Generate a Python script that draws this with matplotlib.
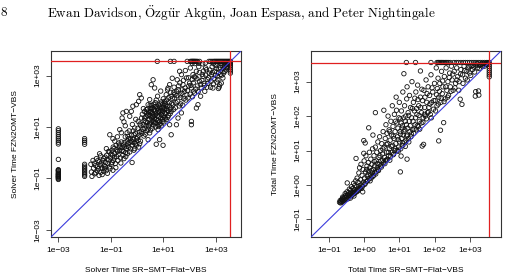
import numpy as np
import matplotlib
matplotlib.use("Agg")
import matplotlib.pyplot as plt

plt.rcParams["font.family"] = ["Liberation Sans", "DejaVu Sans"]
plt.rcParams["mathtext.fontset"] = "cm"

# all times are log10(seconds)
TIMEOUT = 3.556  # log10(3600)

# --- left panel: solver time ---
solver_col_001 = [0.93, 0.86, 0.78, 0.70, 0.62, 0.55, 0.48, 0.41, 0.34, -0.26,
                  -0.66, -0.68, -0.70, -0.74, -0.78, -0.82, -0.84, -0.86, -0.89,
                  -0.92, -0.93, -0.95, -0.98, -1.01, -1.04]
solver_col_01 = [0.55, 0.48, 0.41, 0.33, -0.45, -0.52, -0.58, -0.64, -0.70,
                 -0.76, -0.82, -0.87, -0.92]
solver_cloud = [
    (-1.76, -0.45), (-1.74, -0.75), (-1.72, -0.92), (-1.68, -0.30), (-1.66, -0.60),
    (-1.62, -0.82), (-1.58, -0.50), (-1.55, -0.23), (-1.52, -0.70), (-1.49, -0.30),
    (-1.47, -0.62), (-1.45, -0.88), (-1.43, -0.04), (-1.40, -0.48), (-1.38, -0.76),
    (-1.36, -0.40), (-1.34, -0.60), (-1.30, -0.30), (-1.28, -0.72), (-1.26, -0.50),
    (-1.24, -0.62), (-1.22, -0.17), (-1.20, -0.38), (-1.17, 0.16), (-1.16, -0.10),
    (-1.13, -0.80), (-1.11, -0.42), (-1.08, -0.28), (-1.06, -0.55), (-1.04, 0.03),
    (-1.01, -0.20), (-0.98, -0.45), (-0.96, 0.10), (-0.94, -0.10), (-0.92, -0.68),
    (-0.90, -0.30), (-0.88, 0.16), (-0.85, -0.04), (-0.83, -0.42), (-0.80, 0.29),
    (-0.78, -0.15), (-0.75, 0.05), (-0.73, -0.30), (-0.70, 0.38), (-0.69, 0.22),
    (-0.66, 0.09), (-0.63, -0.20), (-0.60, 0.42), (-0.57, 0.09), (-0.54, -0.10),
    (-0.52, 0.30), (-0.50, -0.23), (-0.47, 0.22), (-0.44, 0.00), (-0.41, 0.16),
    (-0.38, 0.45), (-0.37, -0.04), (-0.35, 0.35), (-0.32, 0.22), (-0.28, 0.03),
    (-0.19, -0.38), (-0.19, 0.30), (-0.16, 0.42), (-0.12, 0.10), (-0.09, 0.16),
    (-0.05, 0.35), (-0.03, 0.29), (0.04, 0.48), (0.06, 0.22), (0.10, 0.35),
    (-1.04, 0.70), (-0.92, 0.55), (-0.85, 0.45), (-0.75, 0.62), (-0.66, 0.90),
    (-0.60, 0.78), (-0.57, 1.35), (-0.54, 1.55), (-0.50, 1.20), (-0.45, 1.05),
    (-0.41, 1.61), (-0.35, 0.64), (-0.30, 0.85), (-0.28, 1.42), (-0.22, 1.61),
    (-0.22, 0.45), (-0.18, 1.10), (-0.16, 1.81), (-0.12, 0.70), (-0.09, 0.96),
    (-0.05, 1.30), (-0.03, 1.87), (0.02, 0.60), (0.04, 1.22), (0.06, 2.00),
    (0.10, 2.26), (0.10, 0.80), (0.14, 1.05), (0.16, 2.13), (0.16, 0.83),
    (0.20, 1.50), (0.23, 1.09), (0.26, 0.65), (0.29, 1.35), (0.30, 0.95),
    (0.33, 1.20), (0.35, 1.68), (0.38, 0.85), (0.40, 1.45), (0.42, 1.87),
    (0.42, 0.51), (0.44, 1.05), (0.46, 1.30), (0.48, 2.07), (0.48, 0.77),
    (0.50, 1.60), (0.52, 1.15), (0.54, 2.65), (0.54, 1.61), (0.56, 1.85),
    (0.58, 0.95), (0.60, 1.40), (0.61, 2.84), (0.61, 1.42), (0.63, 1.20),
    (0.65, 1.70), (0.67, 2.52), (0.67, 1.16), (0.69, 1.95), (0.70, 1.00),
    (0.72, 1.50), (0.73, 0.33), (0.74, 1.30), (0.76, 1.80), (0.78, 2.20),
    (0.80, 0.90), (0.80, 1.62), (0.82, 1.40), (0.84, 1.10), (0.86, 1.22),
    (0.86, 0.51), (0.88, 1.90), (0.90, 2.40), (0.92, 1.48), (0.92, 1.05),
    (0.95, 1.75), (0.97, 1.30), (0.99, 0.29), (0.99, 1.74), (1.00, 2.10),
    (1.02, 1.20), (1.05, 2.00), (1.05, 1.55), (1.08, 1.35), (1.10, 1.85),
    (1.11, 2.26), (1.11, 1.29), (1.14, 1.65), (1.16, 2.45), (1.18, 2.52),
    (1.20, 1.45), (1.22, 1.95), (1.24, 2.65), (1.24, 1.09), (1.27, 1.70),
    (1.30, 1.61), (1.30, 0.70), (1.30, 2.20),
    (0.45, 1.50), (0.55, 1.35), (0.62, 1.65), (0.68, 1.45), (0.75, 1.55),
    (0.78, 1.25), (0.85, 1.60), (0.90, 1.35), (0.95, 1.55), (1.00, 1.45),
    (0.58, 1.75), (0.70, 1.80), (0.82, 1.85), (0.98, 1.90), (1.05, 1.70),
    (1.15, 1.80), (0.50, 1.85), (0.40, 1.70), (0.35, 1.40), (0.28, 1.60),
    (-0.45, 0.62), (-0.38, 0.78), (-0.25, 0.55), (-0.15, 0.85),
    (1.34, 2.90), (1.37, 1.87), (1.40, 2.35), (1.43, 2.13), (1.46, 1.75),
    (1.50, 2.39), (1.50, 1.09), (1.53, 2.84), (1.55, 2.00), (1.56, 1.35),
    (1.58, 2.60), (1.62, 3.17), (1.64, 2.25), (1.66, 1.90), (1.69, 3.04),
    (1.69, 1.55), (1.72, 2.45), (1.75, 2.65), (1.78, 2.10), (1.81, 2.39),
    (1.84, 3.20), (1.88, 2.91), (1.90, 2.25), (1.94, 2.13), (1.97, 2.60),
    (2.00, 2.71), (2.03, 3.30), (2.07, 2.52), (2.07, 1.22), (2.07, 1.09),
    (2.10, 2.85), (2.13, 3.04), (2.16, 2.40), (2.19, 2.32), (2.22, 2.95),
    (2.26, 3.17), (2.26, 1.74), (2.30, 2.60), (2.32, 1.87), (2.35, 3.35),
    (2.38, 2.78), (2.42, 2.20), (2.45, 2.52), (2.48, 3.05), (2.51, 2.97),
    (2.55, 2.70), (2.58, 2.39), (2.61, 3.30), (2.64, 3.23), (2.68, 2.85),
    (2.70, 2.71), (2.75, 3.10), (2.80, 2.55), (2.83, 3.04), (2.86, 3.35),
    (2.89, 2.52), (2.93, 2.90), (2.96, 3.17), (3.00, 3.40), (3.04, 2.75),
    (3.08, 2.84), (3.12, 3.25), (3.15, 2.65), (3.18, 3.05), (3.21, 2.71),
    (3.24, 3.40), (3.27, 2.91), (3.30, 3.10), (3.34, 3.17), (3.37, 3.45),
    (3.40, 3.30), (3.44, 3.38), (3.47, 3.48), (3.13, 2.56), (3.10, 2.50),
    (2.10, 3.48), (2.20, 3.47), (2.35, 3.48), (2.50, 3.46), (2.60, 3.49),
    (2.90, 3.47), (3.05, 3.49), (3.20, 3.47), (3.30, 3.49), (3.45, 3.50),
    (-1.63, -0.41), (-1.57, -0.78), (-1.51, -0.55), (-1.44, -0.35), (-1.39, -0.12),
    (-1.33, -0.85), (-1.27, -0.22), (-1.21, -0.55), (-1.18, -0.70), (-1.14, -0.25),
    (-1.09, 0.05), (-1.03, -0.62), (-0.99, -0.05), (-0.95, -0.38), (-0.91, 0.22),
    (-0.87, -0.20), (-0.81, -0.58), (-0.77, 0.12), (-0.72, -0.08), (-0.67, 0.30),
    (-0.62, -0.40), (-0.58, 0.20), (-0.53, 0.05), (-0.49, 0.40), (-0.43, -0.15),
    (-0.39, 0.25), (-0.33, 0.55), (-0.27, 0.40), (-0.24, 0.15), (-0.21, 0.68),
    (-0.14, 0.52), (-0.11, 0.38), (-0.07, 0.75), (-0.02, 0.55), (0.03, 0.95),
    (0.07, 0.68), (0.11, 1.12), (0.13, 0.45), (0.17, 1.35), (0.19, 0.75),
    (0.22, 0.92), (0.24, 1.72), (0.27, 1.25), (0.31, 0.72), (0.34, 1.05),
    (0.37, 1.55), (0.39, 1.18), (0.41, 0.92), (0.43, 1.62), (0.47, 1.12),
    (0.49, 1.42), (0.51, 0.88), (0.53, 1.72), (0.57, 1.22), (0.59, 1.52),
    (0.62, 1.08), (0.64, 1.88), (0.66, 1.32), (0.69, 1.62), (0.71, 1.18),
    (0.73, 2.05), (0.77, 1.42), (0.79, 1.72), (0.81, 1.02), (0.83, 1.58),
    (0.87, 1.78), (0.89, 1.12), (0.91, 1.65), (0.93, 1.98), (0.96, 1.22),
    (0.98, 1.62), (1.01, 1.82), (1.03, 1.38), (1.06, 1.92), (1.09, 1.52),
    (1.12, 1.72), (1.13, 2.05), (1.17, 1.38), (1.19, 1.62), (1.21, 2.15),
    (1.23, 1.82), (1.26, 1.52), (1.28, 2.35), (1.32, 1.92), (1.35, 2.12),
    (1.39, 1.68), (1.41, 2.55), (1.44, 2.28), (1.48, 1.95), (1.52, 2.22),
    (1.57, 2.45), (1.61, 1.82), (1.63, 2.72), (1.67, 2.15), (1.71, 2.32),
    (1.74, 1.85), (1.77, 2.82), (1.83, 2.52), (1.86, 2.05), (1.92, 2.42),
    (1.96, 2.92), (2.02, 2.28), (2.05, 2.62), (2.11, 2.18), (2.14, 2.72),
    (2.18, 2.95), (2.24, 2.48), (2.28, 2.88), (2.33, 2.38), (2.37, 3.12),
    (2.41, 2.65), (2.47, 2.82), (2.53, 3.18), (2.57, 2.62), (2.62, 3.02),
    (2.66, 2.55), (2.72, 2.92), (2.77, 3.22), (2.82, 2.78), (2.87, 3.12),
    (2.91, 2.68), (2.98, 3.02), (3.02, 3.28), (3.06, 2.98), (3.11, 3.12),
    (3.17, 3.32), (3.23, 3.02), (3.29, 3.28), (3.33, 3.38), (3.38, 3.22),
    (3.42, 3.45), (3.46, 3.32), (3.50, 3.42),
]
solver_timeout_x = [0.77, 1.27, 1.41, 1.91, 2.03, 2.07, 2.10, 2.13, 2.16, 2.19,
                    2.22, 2.26, 2.30, 2.38, 2.74, 2.80, 2.86, 2.92, 2.96, 3.00,
                    3.04, 3.08, 3.12, 3.16, 3.20, 3.24, 3.28, 3.32, 3.36, 3.40,
                    3.44, 3.48, 3.52, 3.556]
solver_timeout_y = [3.50, 3.45, 3.40, 3.33, 3.25, 3.18, 3.10]

# --- right panel: total time ---
total_cloud = [
    (-0.70, -0.50), (-0.68, -0.45), (-0.66, -0.48), (-0.64, -0.42), (-0.62, -0.44),
    (-0.60, -0.38), (-0.60, -0.47), (-0.58, -0.40), (-0.56, -0.35), (-0.55, -0.43),
    (-0.53, -0.30), (-0.52, -0.38), (-0.50, -0.33), (-0.49, -0.20), (-0.48, 0.06),
    (-0.47, -0.28), (-0.45, -0.35), (-0.44, -0.22), (-0.42, -0.12), (-0.41, -0.30),
    (-0.40, -0.25), (-0.38, -0.15), (-0.37, -0.32), (-0.36, -0.05), (-0.34, -0.22),
    (-0.33, -0.28), (-0.32, -0.10), (-0.30, 0.05), (-0.30, -0.18), (-0.28, -0.25),
    (-0.27, -0.02), (-0.26, -0.14), (-0.24, 0.12), (-0.23, 0.77), (-0.22, -0.20),
    (-0.21, -0.05), (-0.20, 0.20), (-0.18, -0.12), (-0.17, 0.08), (-0.15, 0.35),
    (-0.14, -0.02), (-0.13, 0.50), (-0.12, -0.10), (-0.10, 0.15), (-0.09, 0.60),
    (-0.08, 0.00), (-0.06, 0.28), (-0.05, -0.04), (-0.04, -0.20), (-0.03, 0.45),
    (-0.02, 0.08), (-0.01, 0.92), (0.00, 0.70), (0.01, 0.20), (0.02, 0.02),
    (0.04, 0.38), (0.05, 0.85), (0.06, 0.10), (0.08, 0.55), (0.09, 0.25),
    (0.10, 0.12), (0.12, 0.65), (0.13, 0.40), (0.14, 0.18), (0.15, 0.95),
    (0.16, 0.50), (0.18, 0.28), (0.19, 0.75), (0.20, 0.20), (0.22, 0.60),
    (0.23, 0.35), (0.24, 1.05), (0.26, 0.45), (0.27, 0.28), (0.28, 0.85),
    (0.30, 0.55), (0.31, 0.36), (0.32, 1.10), (0.34, 0.70), (0.35, 0.40),
    (0.36, 0.95), (0.38, 0.50), (0.39, 1.25), (0.40, 0.45), (0.42, 0.80),
    (0.43, 0.60), (0.44, 1.40), (0.46, 0.55), (0.47, 1.00), (0.48, 0.70),
    (0.50, 1.20), (0.51, 0.58), (0.52, 0.90), (0.54, 1.55), (0.55, 0.65),
    (0.56, 2.17), (0.57, 1.10), (0.58, 0.80), (0.60, 1.35), (0.61, 0.70),
    (0.62, 1.75), (0.64, 0.95), (0.65, 1.50), (0.66, 0.75), (0.67, 1.20),
    (0.68, 2.00), (0.70, 0.85), (0.71, 1.60), (0.72, 1.05), (0.74, 1.30),
    (0.75, 0.82), (0.76, 1.85), (0.78, 1.45), (0.79, 0.95), (0.80, 2.30),
    (0.81, 1.15), (0.82, 1.70), (0.84, 0.90), (0.85, 1.35), (0.86, 2.05),
    (0.87, 1.00), (0.88, 1.55), (0.90, 1.20), (0.91, 2.55), (0.92, 2.17),
    (0.93, 1.80), (0.94, 1.00), (0.95, 1.40), (0.96, 1.65), (0.98, 1.10),
    (0.99, 1.95), (1.00, 2.40), (1.01, 1.25), (1.02, 1.55), (1.03, 0.38),
    (1.04, 1.05), (1.05, 0.84), (1.05, 1.80), (1.06, 2.15), (1.07, 1.35),
    (1.08, 1.65), (1.10, 2.70), (1.10, 1.15), (1.11, 1.45), (1.12, 1.95),
    (1.13, 3.23), (1.14, 1.25), (1.15, 2.30), (1.16, 1.60), (1.18, 2.00),
    (1.19, 1.30), (1.20, 1.75), (1.21, 2.50), (1.22, 2.85), (1.22, 0.75),
    (1.23, 1.45), (1.25, 2.10), (1.26, 1.35), (1.28, 1.85), (1.29, 2.60),
    (1.30, 1.55), (1.32, 2.25), (1.33, 1.40), (1.35, 1.95), (1.36, 3.00),
    (1.38, 1.60), (1.40, 2.40), (1.41, 1.50), (1.43, 2.15), (1.45, 1.75),
    (1.47, 2.70), (1.48, 1.60), (1.50, 2.05), (1.52, 2.90), (1.54, 1.70),
    (1.55, 2.30), (1.57, 1.85), (1.60, 3.31), (1.60, 2.55), (1.62, 1.80),
    (1.63, 2.10), (1.65, 1.13), (1.66, 2.45), (1.68, 1.95), (1.69, 1.18),
    (1.70, 2.75), (1.72, 2.25), (1.74, 2.00), (1.76, 3.05), (1.78, 2.40),
    (1.80, 2.10), (1.82, 2.85), (1.84, 2.25), (1.86, 2.60), (1.88, 2.05),
    (1.90, 3.20), (1.92, 2.40), (1.95, 2.70), (1.97, 2.20), (2.00, 2.95),
    (2.02, 2.45), (2.05, 3.40), (2.07, 2.30), (2.08, 2.80), (2.10, 3.10),
    (2.12, 1.28), (2.12, 2.55), (2.15, 2.95), (2.17, 1.59), (2.18, 2.40),
    (2.20, 3.30), (2.22, 2.65), (2.24, 2.85), (2.26, 1.81), (2.28, 3.15),
    (2.30, 2.50), (2.33, 3.40), (2.35, 2.75), (2.38, 3.00), (2.40, 2.60),
    (2.43, 3.25), (2.45, 2.85), (2.48, 3.45), (2.50, 3.05), (2.53, 2.75),
    (2.56, 3.30), (2.60, 2.95), (2.63, 3.40), (2.66, 3.15), (2.70, 3.00),
    (2.73, 2.49), (2.75, 3.35), (2.78, 2.34), (2.80, 3.20), (2.84, 3.45),
    (2.88, 3.10), (2.92, 3.30), (2.96, 3.40), (3.00, 3.25), (3.04, 3.45),
    (3.08, 3.35), (3.12, 3.42), (3.16, 2.58), (3.18, 3.48), (3.22, 3.40),
    (3.25, 2.73), (3.28, 3.47), (3.32, 3.50), (3.36, 3.45), (3.40, 3.52),
    (3.44, 3.50), (3.48, 3.53), (3.52, 3.54), (3.17, 2.71), (3.26, 2.61),
    (0.13, 1.66), (0.32, 2.10), (-0.01, 1.29), (0.03, 1.22), (0.25, 1.45),
    (-0.67, -0.52), (-0.63, -0.50), (-0.61, -0.35), (-0.57, -0.45), (-0.54, -0.25),
    (-0.51, -0.42), (-0.46, -0.40), (-0.43, -0.30), (-0.39, -0.38), (-0.35, -0.30),
    (-0.31, -0.25), (-0.29, -0.32), (-0.25, -0.22), (-0.19, -0.18), (-0.16, -0.15),
    (-0.11, -0.08), (-0.07, -0.10), (0.03, 0.05), (0.07, 0.45), (0.11, 0.30),
    (0.17, 0.12), (0.21, 0.42), (0.25, 0.25), (0.29, 0.68), (0.33, 0.32),
    (0.37, 0.62), (0.41, 0.42), (0.45, 0.85), (0.49, 0.52), (0.53, 0.72),
    (0.53, 1.05), (0.59, 0.62), (0.63, 1.18), (0.63, 0.72), (0.69, 0.95),
    (0.73, 0.72), (0.73, 1.55), (0.77, 1.12), (0.83, 0.88), (0.83, 1.42),
    (0.89, 1.05), (0.89, 1.85), (0.97, 0.98), (0.97, 1.32), (1.03, 1.48),
    (1.03, 1.92), (1.09, 1.22), (1.09, 1.72), (1.13, 1.55), (1.17, 1.12),
    (1.17, 1.85), (1.21, 1.42), (1.24, 1.65), (1.27, 1.25), (1.27, 2.02),
    (1.31, 1.72), (1.34, 1.48), (1.37, 2.22), (1.39, 1.85), (1.42, 1.62),
    (1.44, 2.52), (1.46, 1.95), (1.49, 2.22), (1.51, 1.72), (1.53, 2.48),
    (1.56, 2.02), (1.58, 1.62), (1.61, 2.25), (1.64, 2.78), (1.67, 1.82),
    (1.71, 2.05), (1.73, 2.55), (1.77, 1.92), (1.79, 2.65), (1.83, 2.12),
    (1.87, 2.35), (1.91, 1.95), (1.93, 2.82), (1.98, 2.45), (2.03, 2.15),
    (2.06, 2.62), (2.11, 2.35), (2.14, 2.72), (2.19, 2.52), (2.23, 3.02),
    (2.27, 2.42), (2.32, 2.85), (2.37, 2.55), (2.42, 3.12), (2.47, 2.72),
    (2.52, 3.22), (2.58, 2.82), (2.64, 3.05), (2.69, 2.75), (2.74, 3.22),
    (2.81, 2.95), (2.86, 3.32), (2.93, 3.05), (2.98, 3.45), (3.03, 3.18),
    (3.09, 3.48), (3.14, 3.28), (3.21, 3.52), (3.27, 3.38), (3.34, 3.52),
    (3.42, 3.45), (3.47, 3.50),
]
total_timeout_x = [1.20, 1.46, 1.90, 2.07, 2.10, 2.12, 2.15, 2.18, 2.20, 2.23,
                   2.26, 2.30, 2.33, 2.36, 2.40, 2.45, 2.55, 2.62, 2.68, 2.75,
                   2.82, 2.88, 2.94, 3.00, 3.06, 3.12, 3.18, 3.24, 3.30, 3.36,
                   3.42, 3.48, 3.52, 3.556]
total_timeout_y = [3.50, 3.44, 3.38, 3.32, 3.26, 3.20, 3.14]


def collect(col_points, cloud, tx, ty):
    xs, ys = [], []
    for xv, yvals in col_points:
        xs += [xv] * len(yvals)
        ys += yvals
    xs += [p[0] for p in cloud]
    ys += [p[1] for p in cloud]
    xs += tx
    ys += [TIMEOUT] * len(tx)
    xs += [TIMEOUT] * len(ty)
    ys += ty
    return 10 ** np.array(xs), 10 ** np.array(ys)


def panel(ax, x, y, lim, ticks, xlabel, ylabel):
    ax.scatter(x, y, s=10, facecolors="none", edgecolors="#111111",
               linewidths=0.6, zorder=2)
    lo, hi = 10 ** lim[0], 10 ** lim[1]
    ax.set_xscale("log")
    ax.set_yscale("log")
    ax.set_xlim(lo, hi)
    ax.set_ylim(lo, hi)
    ax.plot([lo, hi], [lo, hi], color="#3c3cdc", lw=0.8, zorder=3)
    ax.axhline(10 ** TIMEOUT, color="#e02020", lw=0.9, zorder=3)
    ax.axvline(10 ** TIMEOUT, color="#e02020", lw=0.9, zorder=3)
    labels = ["1e" + ("+" if t >= 0 else "\u2212") + "%02d" % abs(t) for t in ticks]
    ax.set_xticks([10.0 ** t for t in ticks], labels)
    ax.set_yticks([10.0 ** t for t in ticks], labels)
    ax.minorticks_off()
    ax.tick_params(length=3.5, width=0.6, labelsize=6, pad=3.5, color="#333333")
    plt.setp(ax.get_yticklabels(), rotation=90, va="center")
    for s in ax.spines.values():
        s.set_linewidth(0.8)
        s.set_color("#333333")
    ax.text(0.5, -0.181, xlabel, transform=ax.transAxes, ha="center",
            va="center", fontsize=6)
    ax.text(-0.186, 0.5, ylabel, transform=ax.transAxes, ha="center",
            va="center", rotation=90, fontsize=6)


fig = plt.figure(figsize=(5.09, 2.73), dpi=100)
ax1 = fig.add_axes([51 / 509, 36 / 273, 190 / 509, 186 / 273])
ax2 = fig.add_axes([311 / 509, 36 / 273, 190 / 509, 186 / 273])

sx, sy = collect([(-3.0, solver_col_001), (-2.0, solver_col_01)], solver_cloud,
                 solver_timeout_x, solver_timeout_y)
tx, ty = collect([], total_cloud, total_timeout_x, total_timeout_y)

panel(ax1, sx, sy, (-3.28, 3.96), [-3, -1, 1, 3],
      "Solver Time SR\u2212SMT\u2212Flat\u2212VBS", "Solver Time FZN2OMT\u2212VBS")
panel(ax2, tx, ty, (-1.51, 3.89), [-1, 0, 1, 2, 3],
      "Total Time SR\u2212SMT\u2212Flat\u2212VBS", "Total Time FZN2OMT\u2212VBS")

fig.text(0.5 / 509, 1 - 13 / 273, r"$\mathrm{8}$", ha="left", va="center",
         fontsize=9.5)
fig.text(47 / 509, 1 - 13 / 273,
         r"$\mathrm{Ewan\ Davidson{,}\ \ddot{O}zg\ddot{u}r\ Akg\ddot{u}n{,}\ "
         r"Joan\ Espasa{,}\ and\ Peter\ Nightingale}$",
         ha="left", va="center", fontsize=9.5)

fig.savefig("out.png", dpi=100)
